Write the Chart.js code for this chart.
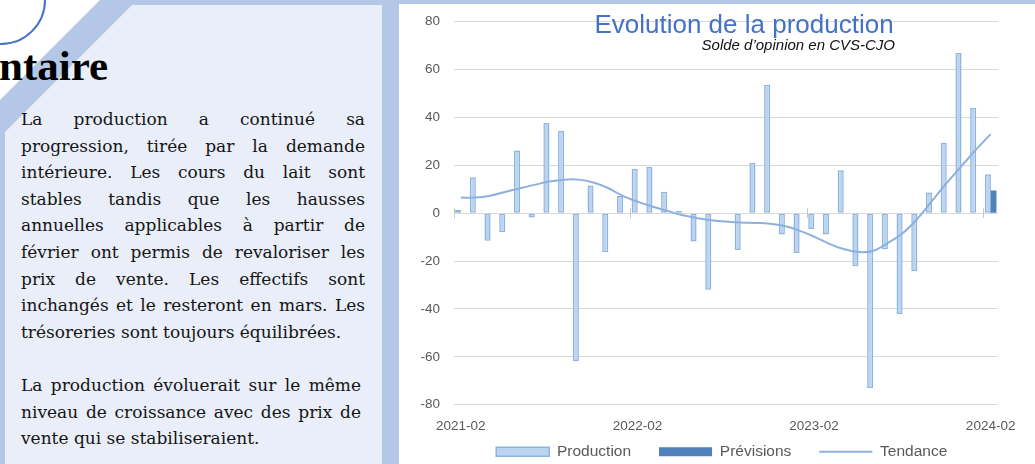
<!DOCTYPE html>
<html lang="fr">
<head>
<meta charset="utf-8">
<title>Evolution de la production</title>
<script src="https://cdn.jsdelivr.net/npm/chart.js@4.4.1/dist/chart.umd.min.js"></script>
<style>
  html, body { margin: 0; padding: 0; }
  body { width: 1035px; height: 464px; overflow: hidden; position: relative; background: #fff; }
  .band { position: absolute; left: 0; top: 0; width: 399px; height: 464px; background: #b4c7e7;
          clip-path: polygon(100px 0, 399px 0, 399px 464px, 0 464px, 0 100px); }
  .topStrip { position: absolute; left: 399px; top: 0; width: 636px; height: 4px; background: #b4c7e7; }
  .panel { position: absolute; left: 5px; top: 5px; width: 377px; height: 459px; background: #e9eef8;
           clip-path: polygon(127px 0, 377px 0, 377px 459px, 0 459px, 0 127px); }
  .ring { position: absolute; left: -44px; top: -45px; width: 86px; height: 86px;
          border: 2.5px solid #4472c4; border-radius: 50%; }
  .heading { position: absolute; left: -1px; top: 44px; margin: 0;
             font: bold 43px/43px "Liberation Serif", "Times New Roman", serif; color: #000; }
  .text { position: absolute; left: 21px; font-family: "DejaVu Serif", serif; font-size: 17px;
          line-height: 26.6px; color: #151515; }
  .text div { width: 344px; }
  .text .j { text-align: justify; text-align-last: justify; }
  #p1 { top: 106px; }
  #p2 { top: 372px; }
  #p2 .j { width: 340px; }
  #chartBox { position: absolute; left: 398px; top: 0; width: 637px; height: 488px; }
</style>
</head>
<body>
<div class="band"></div>
<div class="topStrip"></div>
<div class="panel"></div>
<div class="ring"></div>
<h1 class="heading">ntaire</h1>

<div class="text" id="p1">
  <div class="j">La production a continué sa</div>
  <div class="j">progression, tirée par la demande</div>
  <div class="j">intérieure. Les cours du lait sont</div>
  <div class="j">stables tandis que les hausses</div>
  <div class="j">annuelles applicables à partir de</div>
  <div class="j">février ont permis de revaloriser les</div>
  <div class="j">prix de vente. Les effectifs sont</div>
  <div class="j">inchangés et le resteront en mars. Les</div>
  <div>trésoreries sont toujours équilibrées.</div>
</div>
<div class="text" id="p2">
  <div class="j">La production évoluerait sur le même</div>
  <div class="j">niveau de croissance avec des prix de</div>
  <div>vente qui se stabiliseraient.</div>
</div>

<div id="chartBox">
  <canvas id="productionChart" width="637" height="488"></canvas>
</div>

<script>
// Données (solde d'opinion, CVS-CJO)
const months = [
  '2021-02', '2021-03', '2021-04', '2021-05', '2021-06', '2021-07', '2021-08', '2021-09', '2021-10', '2021-11', '2021-12',
  '2022-01', '2022-02', '2022-03', '2022-04', '2022-05', '2022-06', '2022-07', '2022-08', '2022-09', '2022-10', '2022-11', '2022-12',
  '2023-01', '2023-02', '2023-03', '2023-04', '2023-05', '2023-06', '2023-07', '2023-08', '2023-09', '2023-10', '2023-11', '2023-12',
  '2024-01', '2024-02'
];
const xTickLabels = ['2021-02', '2022-02', '2023-02', '2024-02'];

const production = [
  1.4, 15, -11.5, -8, 26.2, -1.8, 37.6, 34.4, -61.9, 11.5, -16.3,
  7.2, 18.4, 19.3, 8.9, 0.9, -11.8, -32, 0.3, -15.4, 21, 53.6, -8.9,
  -16.6, -6.6, -8.9, 17.9, -22.2, -73, -15.1, -42.1, -24.3, 8.6, 29.3, 66.9,
  43.9, 16.2
];
const previsions = [
  null, null, null, null, null, null, null, null, null, null, null,
  null, null, null, null, null, null, null, null, null, null, null, null,
  null, null, null, null, null, null, null, null, null, null, null, null,
  null, 9.5
];
const tendance = [
  6.5, 6.5, 7.3, 8.8, 10.4, 11.8, 13.2, 14.0, 14.0, 12.8, 10.5,
  7.2, 4.8, 2.8, 1.0, -0.8, -2.0, -3.0, -3.5, -3.9, -4.1, -4.4, -5.4,
  -7.3, -9.8, -12.7, -15.0, -16.2, -15.8, -12.5, -8.5, -2.5, 5.0, 12.5, 19.5,
  26.5, 33
];

const yMin = -80;
const yMax = 80;
const yStep = 20;

const chartTitle = 'Evolution de la production';
const chartSubtitle = 'Solde d\u2019opinion en CVS-CJO';

Chart.defaults.font.family = '"Liberation Sans", Arial, sans-serif';
Chart.defaults.color = '#595959';

// Titre dessiné dans la zone du graphique (comme dans Excel)
const titlePlugin = {
  id: 'chartTitleInside',
  afterDraw(chart) {
    const ctx = chart.ctx;
    ctx.save();
    ctx.textBaseline = 'alphabetic';
    ctx.fillStyle = '#4472c4';
    ctx.font = '26px "Liberation Sans", Arial, sans-serif';
    ctx.textAlign = 'center';
    ctx.fillText(chartTitle, 346, 32.5);
    ctx.fillStyle = '#111111';
    ctx.font = 'italic 15px "Liberation Sans", Arial, sans-serif';
    ctx.textAlign = 'right';
    ctx.fillText(chartSubtitle, 497, 49.5);
    ctx.restore();
  }
};

// Petites graduations sur la ligne du zéro, en début d'année
const zeroTicks = {
  id: 'zeroTicks',
  beforeDatasetsDraw(chart) {
    const x = chart.scales.x;
    const y = chart.scales.y;
    const half = (x.getPixelForValue(1) - x.getPixelForValue(0)) / 2;
    const y0 = y.getPixelForValue(0);
    const ctx = chart.ctx;
    ctx.save();
    ctx.strokeStyle = '#c8c8c8';
    ctx.lineWidth = 1;
    xTickLabels.forEach(m => {
      const px = Math.round(x.getPixelForValue(months.indexOf(m)) - half) + 0.5;
      ctx.beginPath();
      ctx.moveTo(px, y0 - 5);
      ctx.lineTo(px, y0 + 5);
      ctx.stroke();
    });
    ctx.restore();
  }
};

// La légende garde un grand écart horizontal, on la remonte sous les dates
const legendLift = 18.5;
const legendShift = 4;
const legendPlacement = {
  id: 'legendPlacement',
  afterLayout(chart) {
    chart.legend.top -= legendLift;
    chart.legend.bottom -= legendLift;
    chart.legend.left -= legendShift;
    chart.legend.right -= legendShift;
  }
};

const ctx = document.getElementById('productionChart').getContext('2d');
new Chart(ctx, {
  type: 'bar',
  data: {
    labels: months,
    datasets: [{
      type: 'bar',
      label: 'Production',
      data: production,
      backgroundColor: '#bcd4ef',
      borderColor: '#8fb3e0',
      borderWidth: 1.5,
      borderSkipped: false,
      categoryPercentage: 0.75,
      barPercentage: 1.1,
      order: 1
    }, {
      type: 'bar',
      label: 'Prévisions',
      data: previsions,
      backgroundColor: '#4f81bd',
      borderColor: '#4f81bd',
      borderWidth: 0,
      categoryPercentage: 0.75,
      barPercentage: 1.1,
      order: 1
    }, {
      type: 'line',
      label: 'Tendance',
      data: tendance,
      borderColor: '#8eb0dc',
      backgroundColor: '#8eb0dc',
      borderWidth: 2,
      pointRadius: 0,
      tension: 0.4,
      fill: false,
      order: 0
    }]
  },
  options: {
    responsive: false,
    animation: false,
    layout: {
      padding: { top: 15.7, right: 37, left: 0, bottom: 0 }
    },
    scales: {
      x: {
        grid: { display: false, drawTicks: false },
        border: { display: false },
        ticks: {
          autoSkip: false,
          maxRotation: 0,
          padding: 13.2,
          color: '#595959',
          font: { size: 13.5 },
          callback: function (value, index) {
            const m = months[index];
            return xTickLabels.includes(m) ? m : '';
          }
        },
        afterFit: function (scale) { scale.height = 29.8; }
      },
      y: {
        min: yMin,
        max: yMax,
        grid: { color: '#d9d9d9', lineWidth: 1, drawTicks: false },
        border: { display: false },
        ticks: {
          stepSize: yStep,
          padding: 13.5,
          color: '#595959',
          font: { size: 13.5 }
        },
        afterFit: function (scale) { scale.width = 55.5; }
      }
    },
    plugins: {
      legend: {
        position: 'bottom',
        fullSize: false,
        labels: {
          usePointStyle: true,
          pointStyleWidth: 53,
          boxHeight: 9,
          padding: 28,
          color: '#595959',
          font: { size: 15.5 },
          generateLabels: function (chart) {
            const items = Chart.defaults.plugins.legend.labels.generateLabels(chart);
            items.forEach(item => {
              item.pointStyle = item.datasetIndex === 2 ? 'line' : 'rect';
            });
            return items;
          },
          sort: (a, b) => a.datasetIndex - b.datasetIndex
        }
      },
      tooltip: { enabled: false }
    }
  },
  plugins: [titlePlugin, zeroTicks, legendPlacement]
});
</script>
</body>
</html>
